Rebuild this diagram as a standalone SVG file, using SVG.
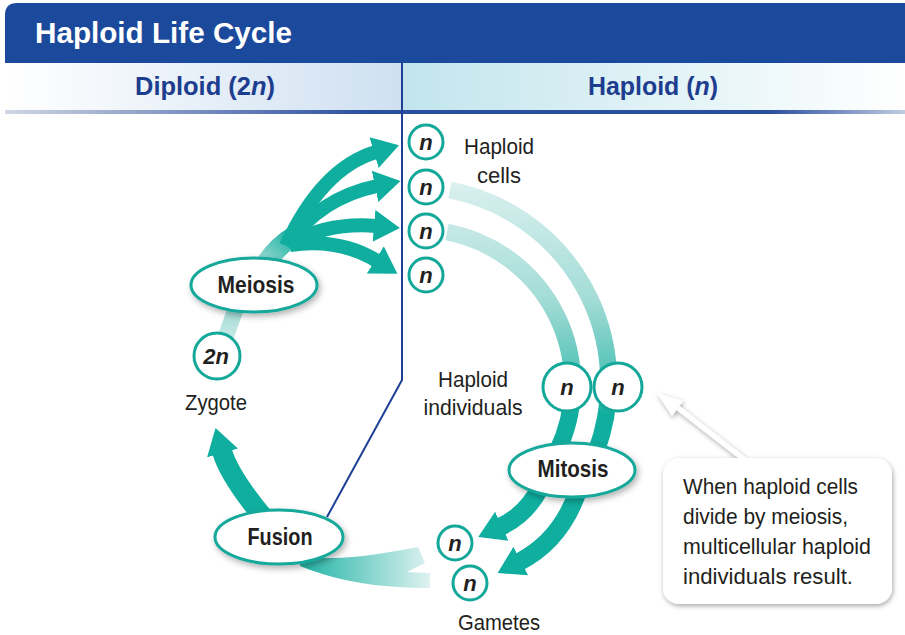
<svg xmlns="http://www.w3.org/2000/svg" width="905" height="635" viewBox="0 0 905 635">
<style>
.lbl{font-family:"Liberation Sans",Arial,sans-serif;font-size:22px;fill:#231f20}
.bold{font-family:"Liberation Sans",Arial,sans-serif;font-weight:bold;font-size:23px;fill:#231f20;text-anchor:middle}
.nn{font-family:"Liberation Sans",Arial,sans-serif;font-weight:bold;font-style:italic;font-size:22px;fill:#231f20;text-anchor:middle}
.cell{fill:#fff;stroke:#14a89a;stroke-width:3}
.ell{fill:#fff;stroke:#14a89a;stroke-width:3;filter:url(#sh)}
.arr{fill:none;stroke:#0fae9f;marker-end:url(#ah)}
.hd{font-family:"Liberation Sans",Arial,sans-serif;font-weight:bold;font-size:25px;fill:#1d3d8f}
</style>
<defs>
<filter id="sh" x="-20%" y="-30%" width="150%" height="170%"><feDropShadow dx="2" dy="3" stdDeviation="3" flood-color="#000" flood-opacity="0.3"/></filter>
<filter id="sh2" x="-20%" y="-20%" width="150%" height="150%"><feDropShadow dx="1" dy="2" stdDeviation="2.5" flood-color="#000" flood-opacity="0.35"/></filter>
<marker id="ah" markerUnits="userSpaceOnUse" viewBox="-2 -18 28 36" markerWidth="28" markerHeight="36" refX="0" refY="0" orient="auto"><path d="M-2,-16 L24,0 L-2,16 Z" fill="#0fae9f"/></marker>
<linearGradient id="lh" x1="0" y1="0" x2="1" y2="0"><stop offset="0" stop-color="#ffffff"/><stop offset="1" stop-color="#cfe0f1"/></linearGradient>
<linearGradient id="rh" x1="0" y1="0" x2="1" y2="0"><stop offset="0" stop-color="#c2e5ed"/><stop offset="1" stop-color="#ffffff"/></linearGradient>
<linearGradient id="bl" x1="0" y1="0" x2="1" y2="0"><stop offset="0" stop-color="#d0d6e4"/><stop offset="0.4" stop-color="#2b4f9f"/><stop offset="0.85" stop-color="#2b4f9f"/><stop offset="1" stop-color="#c0cce2"/></linearGradient>
<linearGradient id="arcg" gradientUnits="userSpaceOnUse" x1="0" y1="185" x2="0" y2="415"><stop offset="0" stop-color="#d9f0ef"/><stop offset="0.5" stop-color="#a3dcd6"/><stop offset="0.85" stop-color="#4cc0b5"/><stop offset="1" stop-color="#10ae9f"/></linearGradient>
<linearGradient id="stem" gradientUnits="userSpaceOnUse" x1="262" y1="268" x2="292" y2="236"><stop offset="0" stop-color="#a8ddd7"/><stop offset="1" stop-color="#1fb3a5"/></linearGradient>
<linearGradient id="zst" gradientUnits="userSpaceOnUse" x1="0" y1="336" x2="0" y2="305"><stop offset="0" stop-color="#c4e8e4"/><stop offset="1" stop-color="#9fd9d3"/></linearGradient>
<linearGradient id="tail" gradientUnits="userSpaceOnUse" x1="310" y1="0" x2="432" y2="0"><stop offset="0" stop-color="#2fb8ab"/><stop offset="1" stop-color="#e2f3f2"/></linearGradient>
</defs>
<rect width="905" height="635" fill="#fff"/>
<g id="header">
<path d="M5 63 L5 15 Q5 3 17 3 L905 3 L905 63 Z" fill="#1b4a9c"/>
<text x="35" y="43" font-family="Liberation Sans,Arial,sans-serif" font-weight="bold" font-size="29" fill="#fff" textLength="257" lengthAdjust="spacingAndGlyphs">Haploid Life Cycle</text>
<rect x="5" y="63" width="397" height="47" fill="url(#lh)"/>
<rect x="403" y="63" width="502" height="47" fill="url(#rh)"/>
<rect x="5" y="110" width="900" height="4" fill="url(#bl)"/>
<text class="hd" x="135" y="95" textLength="140" lengthAdjust="spacingAndGlyphs">Diploid (2<tspan font-style="italic">n</tspan>)</text>
<text class="hd" x="588" y="95" textLength="130" lengthAdjust="spacingAndGlyphs">Haploid (<tspan font-style="italic">n</tspan>)</text>
</g>
<path id="divider" d="M402 63 L402 380 L327 517" fill="none" stroke="#1d3f96" stroke-width="2"/>
<g id="connectors">
<path d="M226 336 L237 305" fill="none" stroke="url(#zst)" stroke-width="16"/>
<path d="M262 270 Q274 248 294 236" fill="none" stroke="url(#stem)" stroke-width="20"/>
<path class="arr" stroke-width="14" d="M286 246 Q322 168 376 152"/>
<path class="arr" stroke-width="14" d="M288 244 Q320 198 377 186"/>
<path class="arr" stroke-width="14" d="M290 243 Q330 222 376 226"/>
<path class="arr" stroke-width="14" d="M290 245 Q340 238 377 261"/>
<path d="M450 190 A196 196 0 0 1 596 452" fill="none" stroke="url(#arcg)" stroke-width="17"/>
<path d="M447 232 A155 155 0 0 1 557 452" fill="none" stroke="url(#arcg)" stroke-width="17"/>
<path class="arr" stroke-width="18" d="M540 488 Q526 515 500 527"/>
<path class="arr" stroke-width="18" d="M579 488 Q562 540 519 562"/>
<path class="arr" stroke-width="20" d="M264 518 Q229 476 222 451"/>
<path d="M300 556 C340 562 380 554 418 547 L425 563 L407 572 L430 573 L430 588 C380 588 340 582 300 566 Z" fill="url(#tail)"/>
</g>
<g id="meiosis"><ellipse class="ell" cx="254" cy="285" rx="63" ry="27"/><text class="bold" x="256" y="293" textLength="77" lengthAdjust="spacingAndGlyphs">Meiosis</text></g>
<g id="mitosis"><ellipse class="ell" cx="572" cy="470" rx="63" ry="27"/><text class="bold" x="573" y="477" textLength="71" lengthAdjust="spacingAndGlyphs">Mitosis</text></g>
<g id="fusion"><ellipse class="ell" cx="279" cy="537" rx="64" ry="27"/><text class="bold" x="280" y="545" textLength="65" lengthAdjust="spacingAndGlyphs">Fusion</text></g>
<g id="hcell1"><circle class="cell" cx="426" cy="142" r="17"/><text class="nn" x="426" y="150">n</text></g>
<g id="hcell2"><circle class="cell" cx="426" cy="187" r="17"/><text class="nn" x="426" y="195">n</text></g>
<g id="hcell3"><circle class="cell" cx="426" cy="231" r="17"/><text class="nn" x="426" y="239">n</text></g>
<g id="hcell4"><circle class="cell" cx="426" cy="275" r="17"/><text class="nn" x="426" y="283">n</text></g>
<g id="hcells-label"><text class="lbl" x="499" y="154" text-anchor="middle" textLength="70" lengthAdjust="spacingAndGlyphs">Haploid</text><text class="lbl" x="499" y="183" text-anchor="middle">cells</text></g>
<g id="indiv1"><circle class="cell" cx="567" cy="387" r="24"/><text class="nn" x="567" y="395">n</text></g>
<g id="indiv2"><circle class="cell" cx="618" cy="387" r="24"/><text class="nn" x="618" y="395">n</text></g>
<g id="indiv-label"><text class="lbl" x="473" y="387" text-anchor="middle" textLength="70" lengthAdjust="spacingAndGlyphs">Haploid</text><text class="lbl" x="473" y="415" text-anchor="middle" textLength="99" lengthAdjust="spacingAndGlyphs">individuals</text></g>
<g id="zygote"><circle class="cell" cx="217" cy="356" r="23"/><text class="nn" x="216" y="364">2n</text><text class="lbl" x="216" y="410" text-anchor="middle" textLength="62" lengthAdjust="spacingAndGlyphs">Zygote</text></g>
<g id="gamete1"><circle class="cell" cx="455" cy="543" r="17"/><text class="nn" x="455" y="551">n</text></g>
<g id="gamete2"><circle class="cell" cx="470" cy="583" r="17"/><text class="nn" x="470" y="591">n</text></g>
<text class="lbl" x="499" y="630" text-anchor="middle" textLength="82" lengthAdjust="spacingAndGlyphs">Gametes</text>
<g id="callout">
<g filter="url(#sh2)">
<path d="M745 460 L678 408" stroke="#fff" stroke-width="5" fill="none"/>
<polygon points="657,393 683,401 672,416" fill="#fff"/>
<rect x="663" y="458" width="229" height="146" rx="16" fill="#fff"/>
</g>
<text class="lbl" x="683" y="494" textLength="175" lengthAdjust="spacingAndGlyphs">When haploid cells</text>
<text class="lbl" x="683" y="524" textLength="165" lengthAdjust="spacingAndGlyphs">divide by meiosis,</text>
<text class="lbl" x="683" y="554" textLength="188" lengthAdjust="spacingAndGlyphs">multicellular haploid</text>
<text class="lbl" x="683" y="584" textLength="170" lengthAdjust="spacingAndGlyphs">individuals result.</text>
</g>
</svg>
